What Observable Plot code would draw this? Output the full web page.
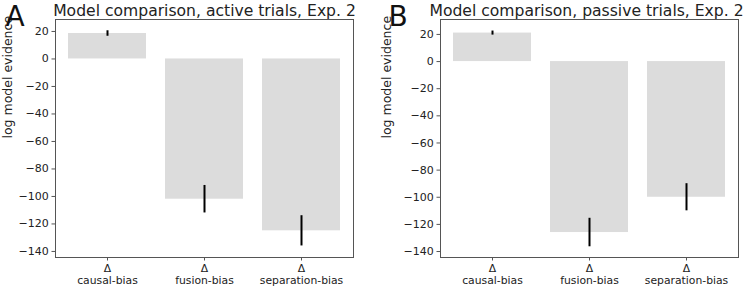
<!DOCTYPE html>
<html>
<head>
<meta charset="utf-8">
<script src="https://cdn.jsdelivr.net/npm/d3@7"></script>
<script src="https://cdn.jsdelivr.net/npm/@observablehq/plot@0.6"></script>
<style>
  html, body { margin: 0; padding: 0; background: white; }
  #wrap { display: flex; width: 750px; height: 287px; }
</style>
</head>
<body>
<div id="wrap"></div>
<script>
const categories = ["causal-bias", "fusion-bias", "separation-bias"];
const activeMean = [18.5, -102, -125];
const activeErr = [2, 10, 11];
const passiveMean = [21, -126, -100];
const passiveErr = [1.5, 10.5, 10];
const yTicks = [20, 0, -20, -40, -60, -80, -100, -120, -140];
const titles = ["Model comparison, active trials, Exp. 2", "Model comparison, passive trials, Exp. 2"];
const letters = ["A", "B"];
const yLabel = "log model evidence";

function panel(means, errs, title, letter, opts) {
  const data = categories.map((c, i) => ({cat: c, v: means[i], lo: means[i] - errs[i], hi: means[i] + errs[i]}));
  return Plot.plot({
    width: 375,
    height: 287,
    marginLeft: opts.ml,
    marginRight: opts.mr,
    marginTop: 19,
    marginBottom: 30,
    style: {fontFamily: "DejaVu Sans", fontSize: "11px", color: "#222", background: "white", overflow: "visible"},
    x: {domain: categories, paddingInner: 0.2, paddingOuter: 0.136},
    y: {domain: opts.ydom},
    marks: [
      Plot.barY(data, {x: "cat", y: "v", fill: "#dcdcdc"}),
      Plot.ruleX(data, {x: "cat", y1: "lo", y2: "hi", stroke: "#000", strokeWidth: 2}),
      Plot.frame({stroke: "#555", strokeWidth: 1}),
      Plot.axisY({ticks: yTicks, tickSize: 3.5, tickPadding: 3.2, label: null, stroke: "#555", fontSize: 11}),
      Plot.axisX({tickSize: 3.5, tickPadding: 3, label: null, stroke: "#555", fontSize: 10.8, lineHeight: 1.1,
        tickFormat: d => "Δ\n" + d}),
      Plot.text([yLabel], {frameAnchor: "left", rotate: -90, dx: opts.ylx, fontSize: 12.5, fill: "#222"}),
      Plot.text([title], {frameAnchor: "top", lineAnchor: "bottom", dx: opts.tdx, dy: -4, fontSize: 15.6, fill: "#222"}),
      Plot.text([letter], {frameAnchor: "top-left", textAnchor: "start", lineAnchor: "bottom", dx: opts.lx, dy: 6, fontSize: 28, fill: "#111"})
    ]
  });
}

const wrap = document.getElementById("wrap");
wrap.appendChild(panel(activeMean, activeErr, titles[0], letters[0], {ml: 55, mr: 22, ydom: [-144.4, 28.7], ylx: -47.5, lx: -50, tdx: 0}));
wrap.appendChild(panel(passiveMean, passiveErr, titles[1], letters[1], {ml: 65, mr: 12, ydom: [-144.4, 31], ylx: -54, lx: -52, tdx: -3}));
</script>
</body>
</html>
